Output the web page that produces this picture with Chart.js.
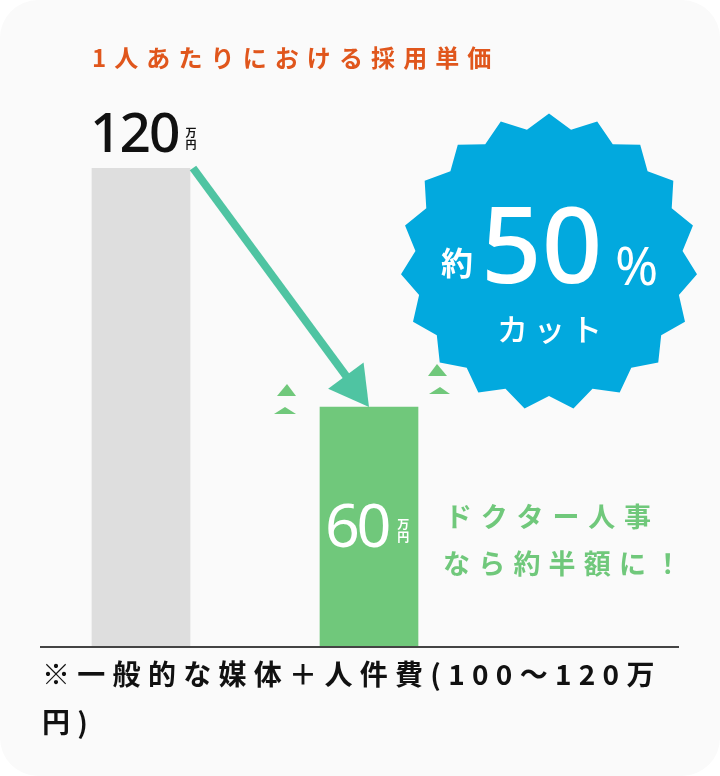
<!DOCTYPE html>
<html><head><meta charset="utf-8">
<script src="https://cdn.jsdelivr.net/npm/chart.js@4/dist/chart.umd.min.js"></script>
<style>html,body{margin:0;padding:0;background:#ffffff;}canvas{display:block}</style>
</head><body>
<canvas id="c" width="720" height="776"></canvas>
<script>
// ---- data ----
const categories = ['一般的な媒体', 'ドクター人事'];
const costValues = [120, 60];          // 万円
const valueLabels = ['120', '60'];
const unitChars = ['万', '円'];
const titleText = '1人あたりにおける採用単価';
const badgeWord = '約';
const badgeNumber = '50';
const badgePercent = '%';
const badgeCut = 'カット';
const calloutLines = ['ドクター人事', 'なら約半額に！'];
const noteLines = ['※一般的な媒体＋人件費(100〜120万', '円)'];
const barColors = ['#dedede', '#70c87b'];

const JP = '"Noto Sans CJK JP", "Noto Sans", sans-serif';
const LAT = '"Noto Sans", "Noto Sans CJK JP", sans-serif';

function drawSpaced(ctx, text, x, y, spacing) {
  for (const ch of text) {
    ctx.fillText(ch, x, y);
    x += ctx.measureText(ch).width + spacing;
  }
  return x - spacing;
}

function roundRectPath(ctx, x, y, w, h, r) {
  ctx.beginPath();
  ctx.moveTo(x + r, y);
  ctx.lineTo(x + w - r, y);
  ctx.arcTo(x + w, y, x + w, y + r, r);
  ctx.lineTo(x + w, y + h - r);
  ctx.arcTo(x + w, y + h, x + w - r, y + h, r);
  ctx.lineTo(x + r, y + h);
  ctx.arcTo(x, y + h, x, y + h - r, r);
  ctx.lineTo(x, y + r);
  ctx.arcTo(x, y, x + r, y, r);
  ctx.closePath();
}

function tri(ctx, ax, ay, bx, by, cx, cy) {
  ctx.beginPath();
  ctx.moveTo(ax, ay); ctx.lineTo(bx, by); ctx.lineTo(cx, cy);
  ctx.closePath(); ctx.fill();
}

const deco = {
  id: 'deco',
  beforeDraw(chart) {
    const ctx = chart.ctx;
    ctx.save();
    ctx.fillStyle = '#fafafa';
    roundRectPath(ctx, 0, 0, chart.width, chart.height, 38);
    ctx.fill();
    ctx.restore();
  },
  afterDatasetsDraw(chart) {
    const ctx = chart.ctx;
    const meta = chart.getDatasetMeta(0);
    const b0 = meta.data[0], b1 = meta.data[1];
    const zeroY = chart.scales.y.getPixelForValue(0);
    ctx.save();

    // baseline
    ctx.strokeStyle = '#444444';
    ctx.lineWidth = 2;
    ctx.beginPath();
    ctx.moveTo(40, zeroY + 1);
    ctx.lineTo(679, zeroY + 1);
    ctx.stroke();

    // title
    ctx.fillStyle = '#e0561c';
    ctx.font = '700 24px ' + JP;
    ctx.textBaseline = 'alphabetic';
    drawSpaced(ctx, titleText, b0.x - b0.width / 2, 67, 8.1);

    // 120 label
    const l0 = b0.x - b0.width / 2;
    ctx.fillStyle = '#111111';
    ctx.font = '500 55px ' + LAT;
    const e0 = drawSpaced(ctx, valueLabels[0], l0 - 2, b0.y - 16, -2);
    ctx.font = '700 11px ' + JP;
    ctx.fillText(unitChars[0], e0 + 5, b0.y - 31);
    ctx.fillText(unitChars[1], e0 + 5, b0.y - 19);

    // 60 label inside green bar
    const l1 = b1.x - b1.width / 2;
    ctx.fillStyle = '#ffffff';
    ctx.font = '400 61px ' + LAT;
    const e1 = drawSpaced(ctx, valueLabels[1], l1 + 5, 547, -3.5);
    ctx.font = '700 12px ' + JP;
    ctx.fillText(unitChars[0], e1 + 6, 529);
    ctx.fillText(unitChars[1], e1 + 6, 542);

    // arrow from top-right of bar 0 to top-center of bar 1
    const sx = b0.x + b0.width / 2 + 3, sy = b0.y;
    const tx = b1.x, ty = b1.y;
    const dx = tx - sx, dy = ty - sy, len = Math.hypot(dx, dy);
    const ux = dx / len, uy = dy / len;
    const headLen = 39, headHalf = 22;
    const bx = tx - ux * headLen, by = ty - uy * headLen;
    ctx.strokeStyle = '#4fc4a2';
    ctx.fillStyle = '#4fc4a2';
    ctx.lineWidth = 8;
    ctx.beginPath();
    ctx.moveTo(sx, sy);
    ctx.lineTo(bx + ux * 4, by + uy * 4);
    ctx.stroke();
    tri(ctx, tx, ty, bx - uy * headHalf, by + ux * headHalf, bx + uy * headHalf, by - ux * headHalf);

    // small green accents
    ctx.fillStyle = '#70c87b';
    const r1 = b1.x + b1.width / 2;
    tri(ctx, l1 - 33, b1.y - 23, l1 - 43, b1.y - 11, l1 - 24, b1.y - 11);
    tri(ctx, l1 - 35, b1.y, l1 - 46, b1.y + 7, l1 - 24, b1.y + 7);
    tri(ctx, r1 + 19, b1.y - 43, r1 + 10, b1.y - 31, r1 + 29, b1.y - 31);
    tri(ctx, r1 + 22, b1.y - 20, r1 + 11, b1.y - 13, r1 + 32, b1.y - 13);

    // starburst badge
    const cx = 549, cy = 262, R = 148.5, r = 134, n = 19;
    ctx.fillStyle = '#02a9de';
    ctx.beginPath();
    for (let i = 0; i < n * 2; i++) {
      const a = -Math.PI / 2 + i * Math.PI / n;
      const rr = i % 2 === 0 ? R : r;
      const px = cx + rr * Math.cos(a), py = cy + rr * Math.sin(a);
      if (i === 0) ctx.moveTo(px, py); else ctx.lineTo(px, py);
    }
    ctx.closePath();
    ctx.fill();

    ctx.fillStyle = '#ffffff';
    ctx.font = '700 32px ' + JP;
    ctx.fillText(badgeWord, 441, 275);
    ctx.font = '500 106px ' + LAT;
    drawSpaced(ctx, badgeNumber, 481, 283, 0);
    ctx.font = '400 52px ' + LAT;
    ctx.fillText(badgePercent, 615, 285);
    ctx.font = '500 31px ' + JP;
    drawSpaced(ctx, badgeCut, 497, 341, 6);

    // callout text
    ctx.fillStyle = '#70c87b';
    ctx.font = '700 27px ' + JP;
    drawSpaced(ctx, calloutLines[0], 445, 527, 8.8);
    drawSpaced(ctx, calloutLines[1], 443, 574, 8.2);

    // footnote
    ctx.fillStyle = '#111111';
    ctx.font = '700 28px ' + JP;
    drawSpaced(ctx, noteLines[0], 42, 685, 7.3);
    drawSpaced(ctx, noteLines[1], 42, 733, 7.3);

    ctx.restore();
  }
};

new Chart(document.getElementById('c'), {
  type: 'bar',
  data: {
    labels: categories,
    datasets: [{
      data: costValues,
      backgroundColor: barColors,
      borderWidth: 0,
      barThickness: 98
    }]
  },
  options: {
    responsive: false,
    animation: false,
    devicePixelRatio: 1,
    layout: { padding: { left: 27, right: 237, top: 168, bottom: 130 } },
    plugins: { legend: { display: false }, tooltip: { enabled: false }, title: { display: false } },
    scales: {
      x: { display: false, offset: true },
      y: { display: false, min: 0, max: 120 }
    }
  },
  plugins: [deco]
});
</script>
</body></html>
